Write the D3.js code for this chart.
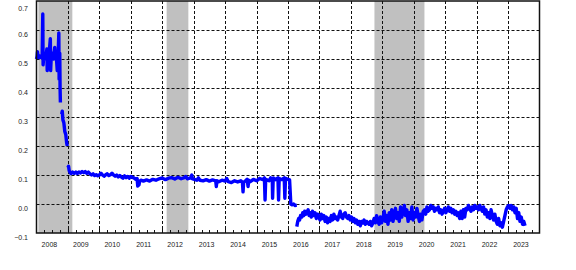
<!DOCTYPE html>
<html>
<head>
<meta charset="utf-8">
<script src="https://cdn.jsdelivr.net/npm/d3@7"></script>
<style>
  body { margin: 0; background: #fff; }
  svg { display: block; font-family: "Liberation Sans", Arial, sans-serif; }
</style>
</head>
<body>
<svg width="576" height="270"></svg>
<script>
// shaded periods (decimal years)
const shaded = [[2008.06, 2009.14], [2012.14, 2012.83], [2018.75, 2020.34]];

const yTicks = [-0.1, 0.0, 0.1, 0.2, 0.3, 0.4, 0.5, 0.6, 0.7];
const yearLabels = [2008, 2009, 2010, 2011, 2012, 2013, 2014, 2015, 2016, 2017, 2018, 2019, 2020, 2021, 2022, 2023];

// series pieces, [decimal year, value]
const seg2008a = [
  [2008.00, 0.50], [2008.02, 0.51], [2008.03, 0.525], [2008.05, 0.51], [2008.08, 0.505],
  [2008.11, 0.51], [2008.15, 0.505], [2008.18, 0.51], [2008.20, 0.655], [2008.21, 0.48],
  [2008.23, 0.51], [2008.26, 0.50], [2008.30, 0.51], [2008.33, 0.535], [2008.34, 0.46],
  [2008.36, 0.52], [2008.39, 0.505], [2008.44, 0.57], [2008.45, 0.46], [2008.47, 0.51],
  [2008.50, 0.52], [2008.54, 0.50], [2008.58, 0.54], [2008.60, 0.50], [2008.63, 0.51],
  [2008.66, 0.46], [2008.69, 0.52], [2008.71, 0.59], [2008.72, 0.43], [2008.74, 0.52],
  [2008.75, 0.40], [2008.76, 0.35]
];

const seg2008b = [
  [2008.80, 0.31], [2008.82, 0.32], [2008.84, 0.29], [2008.87, 0.28], [2008.90, 0.25],
  [2008.93, 0.24], [2008.96, 0.21], [2008.98, 0.20]
];

const seg2009 = [
  [2009.00, 0.125], [2009.02, 0.13], [2009.04, 0.115], [2009.06, 0.11], [2009.10, 0.105],
  [2009.15, 0.11], [2009.20, 0.106], [2009.25, 0.11], [2009.30, 0.105], [2009.35, 0.11],
  [2009.40, 0.107], [2009.45, 0.112], [2009.50, 0.108], [2009.55, 0.112], [2009.60, 0.106],
  [2009.65, 0.11], [2009.70, 0.104], [2009.75, 0.10], [2009.80, 0.104], [2009.85, 0.098],
  [2009.90, 0.101], [2009.95, 0.097], [2010.00, 0.10], [2010.05, 0.106], [2010.10, 0.10],
  [2010.15, 0.096], [2010.20, 0.101], [2010.25, 0.104], [2010.30, 0.098], [2010.35, 0.101],
  [2010.40, 0.106], [2010.45, 0.10], [2010.50, 0.096], [2010.55, 0.10], [2010.60, 0.093],
  [2010.65, 0.098], [2010.70, 0.093], [2010.75, 0.089], [2010.80, 0.097], [2010.85, 0.091],
  [2010.90, 0.095], [2010.95, 0.089], [2011.00, 0.095], [2011.05, 0.092], [2011.10, 0.09],
  [2011.15, 0.085], [2011.20, 0.088], [2011.22, 0.062], [2011.26, 0.066], [2011.28, 0.078],
  [2011.32, 0.082], [2011.40, 0.079], [2011.50, 0.083], [2011.60, 0.079], [2011.70, 0.085],
  [2011.80, 0.082], [2011.90, 0.087], [2012.00, 0.09], [2012.10, 0.084], [2012.20, 0.089],
  [2012.30, 0.091], [2012.40, 0.086], [2012.50, 0.092], [2012.60, 0.087], [2012.70, 0.091],
  [2012.75, 0.095], [2012.80, 0.087], [2012.90, 0.09], [2012.94, 0.10], [2012.96, 0.087],
  [2013.00, 0.086], [2013.10, 0.082], [2013.15, 0.09], [2013.20, 0.082], [2013.30, 0.08],
  [2013.40, 0.084], [2013.50, 0.079], [2013.60, 0.083], [2013.70, 0.08], [2013.72, 0.06],
  [2013.74, 0.08], [2013.80, 0.077], [2013.90, 0.082], [2014.00, 0.079], [2014.05, 0.088],
  [2014.10, 0.077], [2014.20, 0.074], [2014.30, 0.08], [2014.40, 0.076], [2014.50, 0.08],
  [2014.55, 0.075], [2014.57, 0.042], [2014.59, 0.075], [2014.65, 0.08], [2014.70, 0.085],
  [2014.73, 0.06], [2014.75, 0.082], [2014.80, 0.077], [2014.90, 0.085], [2015.00, 0.08],
  [2015.10, 0.088], [2015.20, 0.084], [2015.25, 0.09], [2015.27, 0.014], [2015.29, 0.085],
  [2015.40, 0.08], [2015.45, 0.09], [2015.50, 0.085], [2015.51, 0.02], [2015.53, 0.09],
  [2015.60, 0.084], [2015.68, 0.09], [2015.70, 0.014], [2015.72, 0.088], [2015.80, 0.084],
  [2015.88, 0.09], [2015.90, 0.02], [2015.92, 0.088], [2016.00, 0.085], [2016.05, 0.083],
  [2016.09, 0.0], [2016.13, -0.003], [2016.18, 0.0], [2016.22, -0.005], [2016.28, -0.004]
];

const seg2016 = [
  [2016.28, -0.078], [2016.31, -0.06], [2016.34, -0.05], [2016.37, -0.055], [2016.40, -0.04],
  [2016.44, -0.045], [2016.47, -0.03], [2016.50, -0.04], [2016.53, -0.025], [2016.57, -0.035],
  [2016.60, -0.03], [2016.64, -0.02], [2016.67, -0.04], [2016.70, -0.03], [2016.74, -0.045],
  [2016.78, -0.025], [2016.82, -0.04], [2016.86, -0.03], [2016.90, -0.05], [2016.94, -0.035],
  [2016.98, -0.045], [2017.02, -0.055], [2017.06, -0.035], [2017.10, -0.05], [2017.14, -0.04],
  [2017.18, -0.06], [2017.22, -0.045], [2017.26, -0.065], [2017.30, -0.05], [2017.34, -0.06],
  [2017.38, -0.04], [2017.42, -0.055], [2017.46, -0.035], [2017.50, -0.05], [2017.54, -0.045],
  [2017.58, -0.055], [2017.62, -0.04], [2017.66, -0.025], [2017.70, -0.045], [2017.74, -0.05],
  [2017.78, -0.035], [2017.82, -0.03], [2017.86, -0.045], [2017.90, -0.05], [2017.94, -0.04],
  [2017.98, -0.055], [2018.02, -0.045], [2018.06, -0.06], [2018.10, -0.05], [2018.14, -0.065],
  [2018.18, -0.055], [2018.22, -0.07], [2018.26, -0.06], [2018.30, -0.075], [2018.34, -0.06],
  [2018.38, -0.065], [2018.42, -0.055], [2018.46, -0.07], [2018.50, -0.06], [2018.54, -0.065],
  [2018.58, -0.07], [2018.62, -0.06], [2018.66, -0.075], [2018.70, -0.065], [2018.74, -0.05],
  [2018.78, -0.065], [2018.82, -0.04], [2018.86, -0.06], [2018.90, -0.07], [2018.94, -0.045],
  [2018.98, -0.065], [2019.02, -0.05], [2019.06, -0.025], [2019.10, -0.06], [2019.14, -0.04],
  [2019.18, -0.07], [2019.22, -0.03], [2019.26, -0.055], [2019.30, -0.02], [2019.34, -0.06],
  [2019.38, -0.035], [2019.42, -0.015], [2019.46, -0.05], [2019.50, -0.03], [2019.54, -0.06],
  [2019.58, -0.01], [2019.62, -0.045], [2019.66, -0.025], [2019.70, -0.005], [2019.74, -0.04],
  [2019.78, -0.02], [2019.82, -0.06], [2019.86, -0.03], [2019.90, -0.05], [2019.94, -0.01],
  [2019.98, -0.055], [2020.02, -0.03], [2020.06, -0.045], [2020.10, -0.015], [2020.14, -0.04],
  [2020.18, -0.06], [2020.22, -0.035], [2020.26, -0.055], [2020.30, -0.025], [2020.34, -0.02],
  [2020.38, -0.035], [2020.42, -0.01], [2020.46, -0.025], [2020.50, -0.02], [2020.54, -0.005],
  [2020.58, -0.015], [2020.62, -0.01], [2020.66, -0.025], [2020.70, -0.015], [2020.74, -0.02],
  [2020.78, -0.01], [2020.82, -0.03], [2020.86, -0.02], [2020.90, -0.035], [2020.94, -0.025],
  [2020.98, -0.015], [2021.02, -0.03], [2021.06, -0.02], [2021.10, -0.01], [2021.14, -0.025],
  [2021.18, -0.015], [2021.22, -0.03], [2021.26, -0.02], [2021.30, -0.035], [2021.34, -0.025],
  [2021.38, -0.04], [2021.42, -0.03], [2021.46, -0.05], [2021.50, -0.025], [2021.54, -0.05],
  [2021.58, -0.02], [2021.62, -0.045], [2021.66, -0.015], [2021.70, -0.02], [2021.74, -0.005],
  [2021.78, -0.015], [2021.82, -0.025], [2021.86, -0.01], [2021.90, -0.02], [2021.94, -0.005],
  [2021.98, -0.015], [2022.02, -0.01], [2022.06, -0.02], [2022.10, -0.005], [2022.14, -0.015],
  [2022.18, -0.025], [2022.22, -0.01], [2022.26, -0.035], [2022.30, -0.02], [2022.34, -0.045],
  [2022.38, -0.03], [2022.42, -0.05], [2022.46, -0.02], [2022.50, -0.04], [2022.54, -0.055],
  [2022.58, -0.035], [2022.62, -0.06], [2022.66, -0.07], [2022.70, -0.05], [2022.74, -0.075],
  [2022.78, -0.065], [2022.82, -0.08], [2022.86, -0.06], [2022.90, -0.04], [2022.94, -0.02],
  [2022.98, -0.01], [2023.02, -0.005], [2023.06, -0.015], [2023.10, -0.005], [2023.14, -0.02],
  [2023.18, -0.01], [2023.22, -0.03], [2023.26, -0.015], [2023.30, -0.05], [2023.34, -0.03],
  [2023.38, -0.06], [2023.42, -0.045], [2023.46, -0.07], [2023.50, -0.06], [2023.54, -0.075]
];

const pieces = [seg2008a, seg2008b, seg2009, seg2016];

const plotLeft = 36.5, plotRight = 539.5, plotTop = 1, plotBottom = 233;

const svg = d3.select('svg');

const x = d3.scaleLinear()
    .domain([2008, 2024])
    .range([plotLeft, plotRight]);

const y = d3.scaleLinear()
    .domain([-0.1, 0.7])
    .range([plotBottom, plotTop]);

// shaded bands
svg.append('g')
  .selectAll('rect')
  .data(shaded)
  .enter()
  .append('rect')
    .attr('x', d => x(d[0]))
    .attr('y', plotTop)
    .attr('width', d => x(d[1]) - x(d[0]))
    .attr('height', plotBottom - plotTop)
    .attr('fill', '#c0c0c0');

// grid
const grid = svg.append('g')
    .attr('stroke', '#111')
    .attr('stroke-width', 1)
    .attr('stroke-dasharray', '3,2');

grid.selectAll('.vgrid')
  .data(d3.range(2009, 2024))
  .enter()
  .append('line')
    .attr('x1', d => Math.round(x(d)) + 0.5)
    .attr('x2', d => Math.round(x(d)) + 0.5)
    .attr('y1', plotTop)
    .attr('y2', plotBottom);

grid.selectAll('.hgrid')
  .data(yTicks.filter(d => d > -0.1 && d < 0.7))
  .enter()
  .append('line')
    .attr('x1', plotLeft)
    .attr('x2', plotRight)
    .attr('y1', d => Math.round(y(d)) + 0.5)
    .attr('y2', d => Math.round(y(d)) + 0.5);

// series
const line = d3.line()
    .x(d => x(d[0]))
    .y(d => y(d[1]));

svg.append('g')
  .selectAll('path')
  .data(pieces)
  .enter()
  .append('path')
    .attr('d', line)
    .attr('fill', 'none')
    .attr('stroke', '#0000ff')
    .attr('stroke-width', 3.4)
    .attr('stroke-linejoin', 'round');

// frame
svg.append('rect')
    .attr('x', plotLeft)
    .attr('y', plotTop)
    .attr('width', plotRight - plotLeft)
    .attr('height', plotBottom - plotTop)
    .attr('fill', 'none')
    .attr('stroke', '#111')
    .attr('stroke-width', 1.5);

// quarterly ticks on the bottom axis
const quarters = d3.range(2008, 2024, 0.25).filter(d => d > 2008);
svg.append('g')
  .selectAll('line')
  .data(quarters)
  .enter()
  .append('line')
    .attr('x1', d => Math.round(x(d)) + 0.5)
    .attr('x2', d => Math.round(x(d)) + 0.5)
    .attr('y1', plotBottom)
    .attr('y2', d => Number.isInteger(d) ? plotBottom - 5 : plotBottom - 3)
    .attr('stroke', '#111')
    .attr('stroke-width', 1);

// y labels
svg.append('g')
  .selectAll('text')
  .data(yTicks)
  .enter()
  .append('text')
    .attr('x', 28)
    .attr('y', d => Math.max(y(d), 3.5) + 7)
    .attr('text-anchor', 'end')
    .attr('font-size', 7)
    .attr('fill', '#222')
    .text(d => d3.format('.1f')(d));

// year labels
svg.append('g')
  .selectAll('text')
  .data(yearLabels)
  .enter()
  .append('text')
    .attr('x', d => x(d + 0.41))
    .attr('y', 247)
    .attr('text-anchor', 'middle')
    .attr('font-size', 7)
    .attr('fill', '#222')
    .text(d => d);
</script>
</body>
</html>
